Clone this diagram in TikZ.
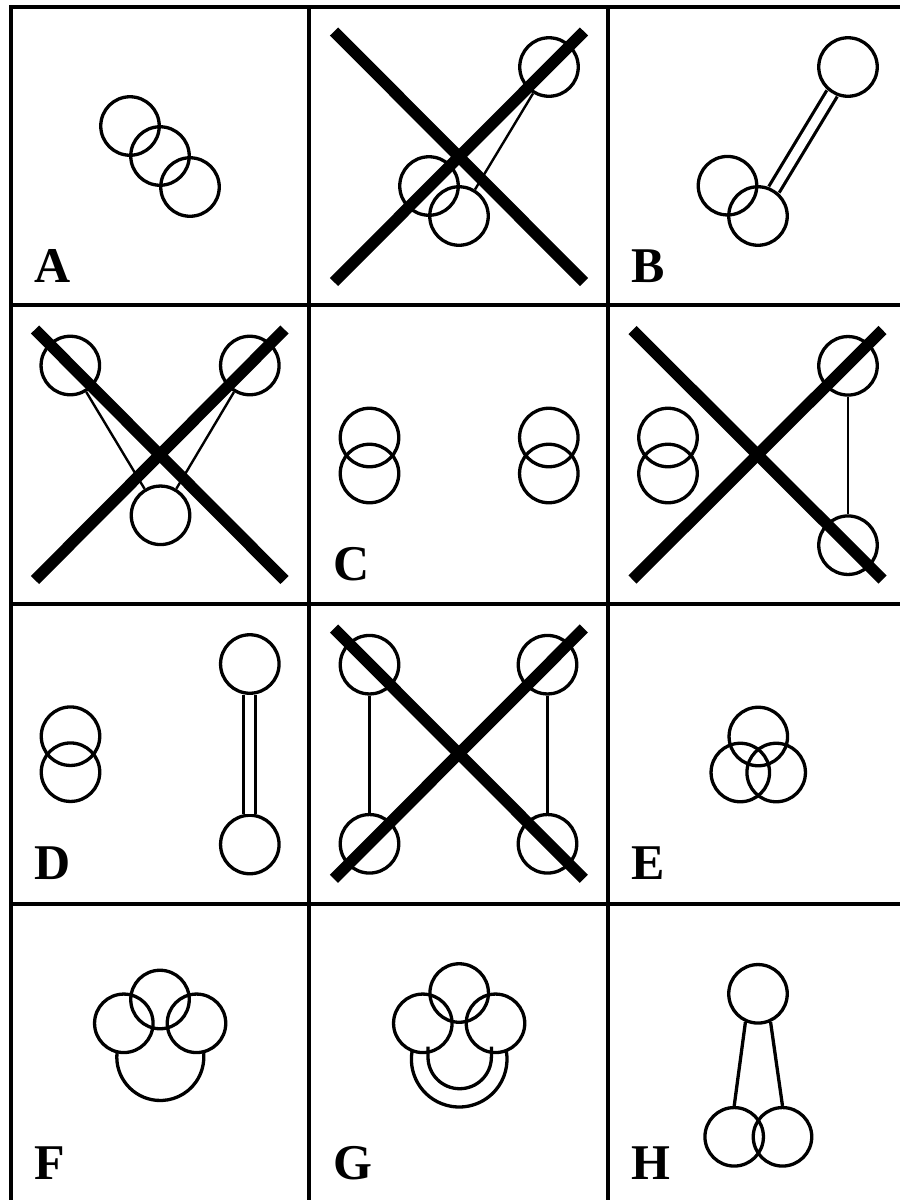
\documentclass[tikz,border=0pt]{standalone}
\usepackage{fontspec}
\setmainfont{Liberation Serif}
\begin{document}
\begin{tikzpicture}[x=1pt,y=-1pt,
  gridln/.style={line width=3.4pt},
  circ/.style={circle,draw,line width=3.3pt,minimum size=58.5pt,inner sep=0pt},
  thinln/.style={line width=2.4pt},
  dbl/.style={double,line width=3.2pt,double distance=8.8pt},
  bigx/.style={line width=11.5pt},
  conn/.style={line width=3.3pt},
  lbl/.style={anchor=base west,inner sep=0pt,font=\fontsize{50}{50}\selectfont\bfseries}
]
\useasboundingbox (0,0) rectangle (900,1200);
\fill[white] (0,0) rectangle (900,1200);
% grid
\draw[gridln] (11,1215) -- (11,7) -- (920,7);
\draw[gridln] (309,7) -- (309,1215);
\draw[gridln] (608,7) -- (608,1215);
\draw[gridln] (11,305) -- (920,305);
\draw[gridln] (11,604) -- (920,604);
\draw[gridln] (11,904) -- (920,904);

% Panel A
\begin{scope}[shift={(11,7)}]
  \node[circ] (a1) at (119,119) {};
  \node[circ] (a2) at (149,149) {};
  \node[circ] (a3) at (179,180) {};
  \node[lbl] (la) at (23.5,275.5) {A};
\end{scope}

% Panel X1
\begin{scope}[shift={(309,7)}]
  \node[circ] (p1) at (240,60) {};
  \node[circ] (p2) at (120,179) {};
  \node[circ] (p3) at (150,209) {};
  \draw[thinln] (p1) -- (p3);
  \draw[bigx] (25,24.5) -- (275,275);
  \draw[bigx] (275,24.5) -- (25,275);
\end{scope}

% Panel B
\begin{scope}[shift={(608,7)}]
  \node[circ] (b1) at (240,60) {};
  \node[circ] (b2) at (119.5,178.7) {};
  \node[circ] (b3) at (150,209) {};
  \draw[dbl] (b1) -- (b3);
  \node[lbl] (lb) at (23.5,275.5) {B};
\end{scope}

% Panel X2
\begin{scope}[shift={(11,305)}]
  \node[circ] (q1) at (59.3,60.5) {};
  \node[circ] (q2) at (238.8,60.5) {};
  \node[circ] (q3) at (149.5,210.3) {};
  \draw[thinln] (q1) -- (q3);
  \draw[thinln] (q2) -- (q3);
  \draw[bigx] (24,24.5) -- (273.5,275);
  \draw[bigx] (273.5,24.5) -- (24,275);
\end{scope}

% Panel C
\begin{scope}[shift={(309,305)}]
  \node[circ] (c1) at (60.5,132.5) {};
  \node[circ] (c2) at (60.5,168.5) {};
  \node[circ] (c3) at (239.8,132.5) {};
  \node[circ] (c4) at (239.8,168.5) {};
  \node[lbl] (lc) at (24.5,275.5) {C};
\end{scope}

% Panel X3
\begin{scope}[shift={(608,305)}]
  \node[circ] (r1) at (60,132.5) {};
  \node[circ] (r2) at (60,168.5) {};
  \node[circ] (r3) at (240,60.8) {};
  \node[circ] (r4) at (240,240.2) {};
  \draw[thinln] (r3) -- (r4);
  \draw[bigx] (24.5,25) -- (274.5,274.5);
  \draw[bigx] (274.5,25) -- (24.5,274.5);
\end{scope}

% Panel D
\begin{scope}[shift={(11,604)}]
  \node[circ] (d1) at (59.5,132.2) {};
  \node[circ] (d2) at (59.5,168.2) {};
  \node[circ] (d3) at (238.8,60) {};
  \node[circ] (d4) at (238.8,240.5) {};
  \draw[dbl] (d3) -- (d4);
  \node[lbl] (ld) at (23.5,275.5) {D};
\end{scope}

% Panel X4
\begin{scope}[shift={(309,604)}]
  \node[circ] (s1) at (60.5,60.7) {};
  \node[circ] (s2) at (238.5,60.7) {};
  \node[circ] (s3) at (60.5,239.8) {};
  \node[circ] (s4) at (238.5,239.8) {};
  \draw[thinln] (s1) -- (s3);
  \draw[thinln] (s2) -- (s4);
  \draw[bigx] (25,24.5) -- (274.8,274.8);
  \draw[bigx] (274.8,24.5) -- (25,274.8);
\end{scope}

% Panel E
\begin{scope}[shift={(608,604)}]
  \node[circ] (e1) at (150.3,132.5) {};
  \node[circ] (e2) at (132.3,168.5) {};
  \node[circ] (e3) at (168.2,168.5) {};
  \node[lbl] (le) at (23.5,275.5) {E};
\end{scope}

% Panel F
\begin{scope}[shift={(11,904)}]
  \node[circ] (f1) at (149,95.5) {};
  \node[circ] (f2) at (112.8,119.3) {};
  \node[circ] (f3) at (185.5,119.3) {};
  \coordinate (farc) at (149.3,153);
  \draw[conn] (farc) ++(185:43.5) arc[start angle=185,end angle=-5,radius=43.5];
  \node[lbl] (lf) at (23.5,275.5) {F};
\end{scope}

% Panel G
\begin{scope}[shift={(309,904)}]
  \node[circ] (g1) at (150.2,89) {};
  \node[circ] (g2) at (113.8,119.3) {};
  \node[circ] (g3) at (186.5,119.3) {};
  \coordinate (garc) at (150.2,155.2);
  \draw[conn] (garc) ++(190:47.8) arc[start angle=190,end angle=-10,radius=47.8];
  \coordinate (gi1) at (119,142.5);
  \coordinate (gi2) at (182.4,142.5);
  \draw[conn] (gi1) -- (119,153) arc[start angle=180,end angle=0,radius=31.7] -- (gi2);
  \node[lbl] (lg) at (24.5,275.5) {G};
\end{scope}

% Panel H
\begin{scope}[shift={(608,904)}]
  \node[circ] (h1) at (150,89.8) {};
  \node[circ] (h2) at (126.2,232.8) {};
  \node[circ] (h3) at (174.5,232.8) {};
  \draw[conn] (h1.246) -- (h2.north);
  \draw[conn] (h1.294) -- (h3.north);
  \node[lbl] (lh) at (23.5,275.5) {H};
\end{scope}
\end{tikzpicture}
\end{document}
